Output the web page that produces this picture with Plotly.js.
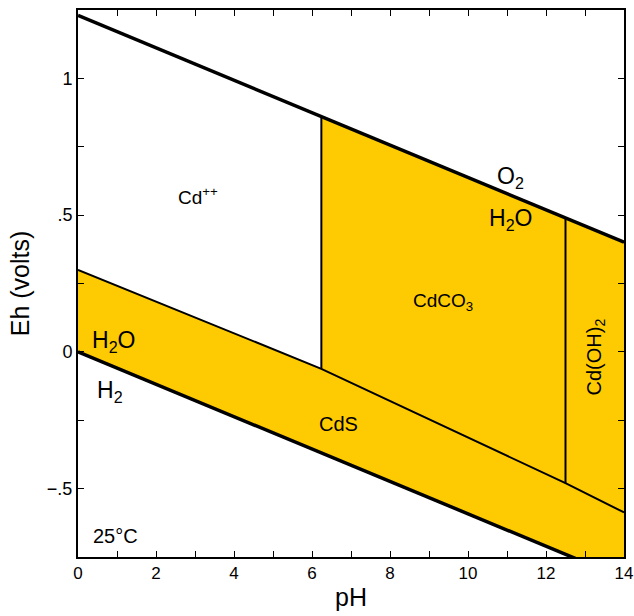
<!DOCTYPE html>
<html>
<head>
<meta charset="utf-8">
<script src="https://cdn.plot.ly/plotly-3.0.1.min.js"></script>
<style>html,body{margin:0;padding:0;background:#fff;}#chart{width:634px;height:616px;}</style>
</head>
<body>
<div id="chart"></div>
<script>
// Water stability limits (pH, Eh in volts)
const waterPH = [0, 14];
const o2Eh = [1.23, 0.401];
const h2Eh = [0, -0.829];

// Lower boundary of Cd++ / CdCO3 / Cd(OH)2 against CdS
const cdsUpperPH = [0, 6.24, 12.5, 14];
const cdsUpperEh = [0.30, -0.062, -0.48, -0.587];

// Vertical boundaries: Cd++/CdCO3 and CdCO3/Cd(OH)2
const verticalPH = [6.24, 12.5];
const verticalTopEh = [0.861, 0.490];
const verticalBottomEh = [-0.062, -0.48];

// Labels
const labelText = ["Cd<sup>++</sup>", "O<sub>2</sub>", "H<sub>2</sub>O", "CdCO<sub>3</sub>", "CdS", "H<sub>2</sub>O", "H<sub>2</sub>", "25°C"];
const labelPH = [3.07, 11.08, 11.1, 9.36, 6.67, 0.9, 0.82, 0.95];
const labelEh = [0.57, 0.636, 0.484, 0.182, -0.262, 0.038, -0.145, -0.672];
const labelSize = [19, 23, 23, 19, 20, 23, 23, 20];

const xTickVals = [0,1,2,3,4,5,6,7,8,9,10,11,12,13,14];
const xTickText = ["0","","2","","4","","6","","8","","10","","12","","14"];
const yTickVals = [-0.5,-0.25,0,0.25,0.5,0.75,1];
const yTickText = ["\u2212.5","","0","",".5","","1"];

const yellow = "#FECB02";
const FONT = "Liberation Sans, Arial, Helvetica, sans-serif";

const traces = [];
// Filled stability field of solids
traces.push({
  x: [cdsUpperPH[0], cdsUpperPH[1], verticalPH[0], waterPH[1], waterPH[1], waterPH[0]],
  y: [cdsUpperEh[0], cdsUpperEh[1], verticalTopEh[0], o2Eh[1], h2Eh[1], h2Eh[0]],
  mode: "lines", fill: "toself", fillcolor: yellow, line: {width: 0, color: yellow},
  hoverinfo: "skip", showlegend: false
});
// CdS upper boundary
traces.push({x: cdsUpperPH, y: cdsUpperEh, mode: "lines", line: {color: "#000", width: 2}, showlegend: false});
// verticals
for (let i = 0; i < verticalPH.length; i++) {
  traces.push({x: [verticalPH[i], verticalPH[i]], y: [verticalBottomEh[i], verticalTopEh[i]], mode: "lines", line: {color: "#000", width: 2}, showlegend: false});
}
// water lines
traces.push({x: waterPH, y: o2Eh, mode: "lines", line: {color: "#000", width: 3.5}, showlegend: false});
traces.push({x: waterPH, y: h2Eh, mode: "lines", line: {color: "#000", width: 3.5}, showlegend: false});

const annotations = labelText.map((t, i) => ({
  x: labelPH[i], y: labelEh[i], xref: "x", yref: "y", text: t, showarrow: false,
  font: {family: FONT, size: labelSize[i], color: "#000"}
}));
annotations.push({
  x: 13.26, y: -0.02, xref: "x", yref: "y", text: "Cd(OH)<sub>2</sub>", showarrow: false,
  textangle: -90, font: {family: FONT, size: 20, color: "#000"}
});

const layout = {
  width: 634, height: 616,
  margin: {l: 78, r: 10, t: 10, b: 59},
  paper_bgcolor: "#fff", plot_bgcolor: "#fff",
  font: {family: FONT, color: "#000"},
  showlegend: false,
  xaxis: {
    range: [0, 14], tickvals: xTickVals, ticktext: xTickText,
    ticks: "inside", ticklen: 6, tickwidth: 1, tickcolor: "#000",
    showline: true, linewidth: 2, linecolor: "#000", mirror: "ticks",
    showgrid: false, zeroline: false, tickfont: {size: 17, family: FONT},
    title: {text: "pH", font: {size: 25, family: FONT}, standoff: 6}
  },
  yaxis: {
    range: [-0.75, 1.25], tickvals: yTickVals, ticktext: yTickText,
    ticks: "inside", ticklen: 6, tickwidth: 1, tickcolor: "#000",
    showline: true, linewidth: 2, linecolor: "#000", mirror: "ticks",
    showgrid: false, zeroline: false, tickfont: {size: 18, family: FONT},
    title: {text: "Eh (volts)", font: {size: 25, family: FONT}, standoff: 10}
  },
  annotations: annotations
};

Plotly.newPlot("chart", traces, layout, {staticPlot: true, displayModeBar: false});
</script>
</body>
</html>
